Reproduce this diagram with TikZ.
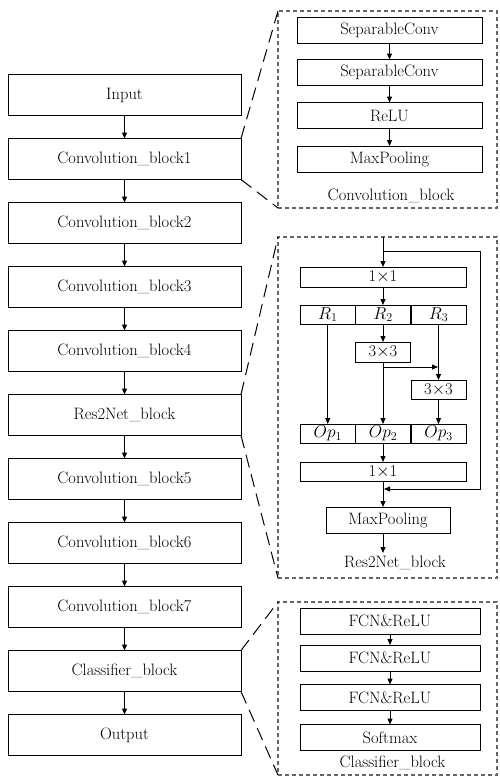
\documentclass[tikz,border=0pt]{standalone}
\usetikzlibrary{arrows.meta}
\begin{document}
\begin{tikzpicture}[x=1pt,y=-1pt,
  every node/.style={inner sep=0pt,outer sep=0pt,font=\fontsize{16.5}{19}\selectfont},
  box/.style={draw,line width=1pt},
  lbox/.style={box,minimum width=233pt,minimum height=41pt},
  cbbox/.style={box,minimum width=185pt,minimum height=26pt},
  clbox/.style={box,minimum width=180pt,minimum height=26pt},
  wide/.style={box,minimum width=166pt,minimum height=20pt},
  cell/.style={box,minimum width=55pt,minimum height=19pt},
  frame/.style={draw,black!60,line width=1.1pt,dash pattern=on 4pt off 3pt},
  zoomline/.style={draw,line width=1pt,dash pattern=on 13pt off 7pt},
  arr/.style={line width=1pt,-{Triangle[length=6pt,width=5pt]}},
]
\useasboundingbox (0,0) rectangle (499,777);

% left column
\node[lbox] (in)  at (124.5,95)  {Input};
\node[lbox] (cb1) at (124.5,159) {Convolution\_block1};
\node[lbox] (cb2) at (124.5,223) {Convolution\_block2};
\node[lbox] (cb3) at (124.5,287) {Convolution\_block3};
\node[lbox] (cb4) at (124.5,351) {Convolution\_block4};
\node[lbox] (res) at (124.5,415) {Res2Net\_block};
\node[lbox] (cb5) at (124.5,479) {Convolution\_block5};
\node[lbox] (cb6) at (124.5,543) {Convolution\_block6};
\node[lbox] (cb7) at (124.5,607) {Convolution\_block7};
\node[lbox] (cls) at (124.5,671) {Classifier\_block};
\node[lbox] (out) at (124.5,735) {Output};
\foreach \a/\b in {in/cb1,cb1/cb2,cb2/cb3,cb3/cb4,cb4/res,res/cb5,cb5/cb6,cb6/cb7,cb7/cls,cls/out}
  \draw[arr] (\a) -- (\b);

% frames
\node[frame,minimum width=219pt,minimum height=197pt] (cframe) at (387.5,109.5) {};
\node[frame,minimum width=219pt,minimum height=341pt] (rframe) at (387.5,407.5) {};
\node[frame,minimum width=219pt,minimum height=173pt] (kframe) at (387.5,688.5) {};

\draw[zoomline] (cb1.north east) -- (cframe.north west);
\draw[zoomline] (cb1.south east) -- (cframe.south west);
\draw[zoomline] (res.north east) -- (rframe.north west);
\draw[zoomline] (res.south east) -- (rframe.south west);
\draw[zoomline] (cls.north east) -- (kframe.north west);
\draw[zoomline] (cls.south east) -- (kframe.south west);

% convolution block detail
\node[cbbox] (sc1)  at (389.5,30)  {SeparableConv};
\node[cbbox] (sc2)  at (389.5,72.5) {SeparableConv};
\node[cbbox] (relu) at (389.5,115.5) {ReLU};
\node[cbbox] (mp1)  at (389.5,159) {MaxPooling};
\node (cblab) at (391,196) {Convolution\_block};
\draw[arr] (sc1) -- (sc2);
\draw[arr] (sc2) -- (relu);
\draw[arr] (relu) -- (mp1);

% Res2Net block detail
\node[wide] (t11) at (383,277) {1$\times$1};
\node[cell,minimum width=55.5pt] (r1) at (327.75,314.5) {$R_1$};
\node[cell] (r2) at (383,314.5) {$R_2$};
\node[cell] (r3) at (438.5,314.5) {$R_3$};
\node[cell,minimum height=20pt] (a33) at (383,352) {3$\times$3};
\node[cell] (b33) at (438.5,389.5) {3$\times$3};
\node[cell,minimum width=55.5pt] (op1) at (327.75,433.5) {$Op_1$};
\node[cell] (op2) at (383,433.5) {$Op_2$};
\node[cell] (op3) at (438.5,433.5) {$Op_3$};
\node[wide,minimum height=19pt] (b11) at (383,471.5) {1$\times$1};
\node[box,minimum width=124pt,minimum height=26pt] (mp2) at (388,520) {MaxPooling};
\node (rlab) at (395,563) {Res2Net\_block};

\coordinate (rin) at (t11.north |- rframe.north);
\coordinate (fb1) at (383,251);
\coordinate (fb2) at (480,251);
\coordinate (fb3) at (480,489);
\coordinate (fb4) at (384,489);
\coordinate (br1) at (383,367);
\coordinate (br2) at (438,367);
\coordinate (mpo) at (383,533);
\coordinate (rend) at (383,553);

\draw[arr] (rin) -- (t11);
\draw[arr] (fb1) -- (fb2) -- (fb3) -- (fb4);
\draw[arr] (t11) -- (r2);
\draw[arr] (r1) -- (op1);
\draw[arr] (r2) -- (a33);
\draw[arr] (a33) -- (op2);
\draw[arr] (br1) -- (br2);
\draw[arr] (r3) -- (b33);
\draw[arr] (b33) -- (op3);
\draw[arr] (op2) -- (b11);
\draw[arr] (b11.south) -- (b11.south |- mp2.north);
\draw[arr] (mpo) -- (rend);

% classifier block detail
\node[clbox] (f1) at (390,621)   {FCN\&ReLU};
\node[clbox] (f2) at (390,658)   {FCN\&ReLU};
\node[clbox] (f3) at (390,697.5) {FCN\&ReLU};
\node[clbox] (sm) at (390,737.5) {Softmax};
\node (klab) at (392.5,763) {Classifier\_block};
\draw[arr] (f1) -- (f2);
\draw[arr] (f2) -- (f3);
\draw[arr] (f3) -- (sm);
\end{tikzpicture}
\end{document}
